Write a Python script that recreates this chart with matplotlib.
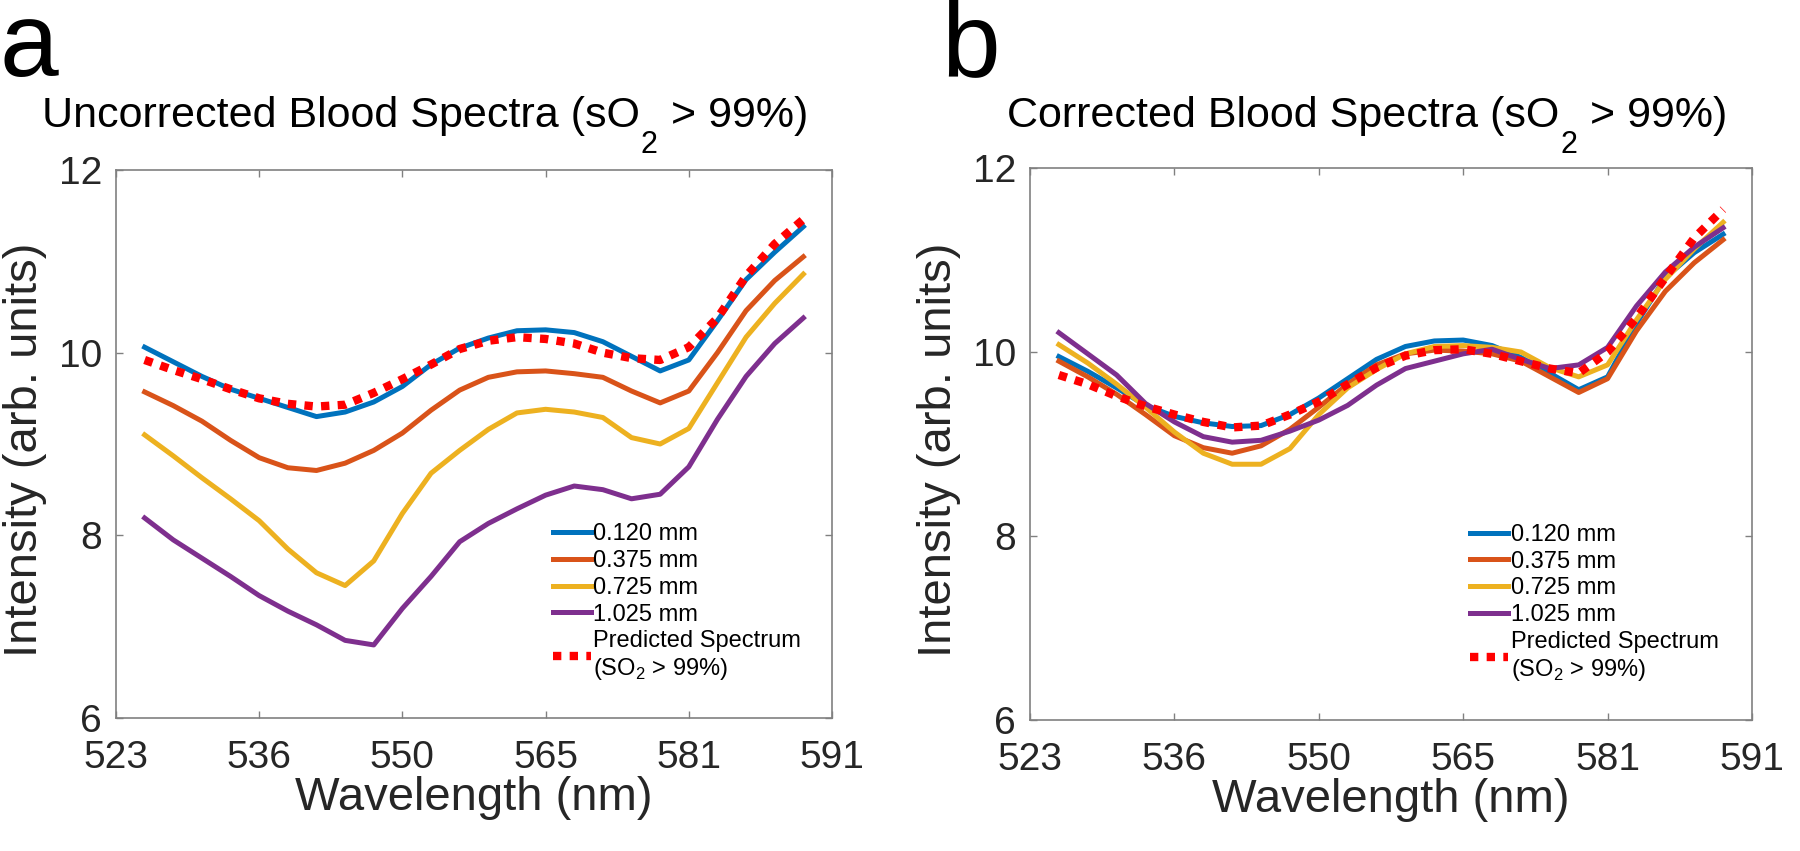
import numpy as np
import matplotlib.pyplot as plt
from matplotlib.transforms import IdentityTransform

plt.rcParams['font.family'] = ['Liberation Sans', 'DejaVu Sans']
plt.rcParams['mathtext.fontset'] = 'custom'
plt.rcParams['mathtext.rm'] = 'Liberation Sans'

# spectra are sampled at 24 evenly spaced bands; axis ticks are labelled by wavelength
band = np.arange(1, 25)
tick_pos = [0, 5, 10, 15, 20, 25]
tick_lbl = ['523', '536', '550', '565', '581', '591']
labels = ['0.120 mm', '0.375 mm', '0.725 mm', '1.025 mm']
colors = ['#0072BD', '#D95319', '#EDB120', '#7E2F8E']

# panel a: uncorrected
a_120 = [10.06, 9.90, 9.74, 9.60, 9.50, 9.40, 9.30, 9.35, 9.46, 9.63, 9.87, 10.05,
         10.16, 10.24, 10.25, 10.22, 10.12, 9.96, 9.80, 9.92, 10.35, 10.80, 11.10, 11.38]
a_375 = [9.57, 9.42, 9.25, 9.04, 8.85, 8.74, 8.71, 8.79, 8.93, 9.12, 9.37, 9.59,
         9.73, 9.79, 9.80, 9.77, 9.73, 9.58, 9.45, 9.58, 10.00, 10.46, 10.79, 11.05]
a_725 = [9.10, 8.87, 8.63, 8.40, 8.16, 7.85, 7.59, 7.45, 7.72, 8.24, 8.68, 8.93,
         9.16, 9.34, 9.38, 9.35, 9.29, 9.07, 9.00, 9.17, 9.67, 10.17, 10.54, 10.86]
a_1025 = [8.19, 7.95, 7.75, 7.55, 7.34, 7.17, 7.02, 6.85, 6.80, 7.20, 7.55, 7.93,
          8.13, 8.29, 8.44, 8.54, 8.50, 8.40, 8.45, 8.75, 9.27, 9.74, 10.10, 10.38]
a_pred = [9.92, 9.81, 9.71, 9.60, 9.50, 9.44, 9.41, 9.43, 9.56, 9.71, 9.87, 10.04,
          10.13, 10.17, 10.15, 10.10, 10.00, 9.94, 9.92, 10.06, 10.38, 10.84, 11.19, 11.46]

# panel b: corrected
b_120 = [9.95, 9.79, 9.61, 9.42, 9.30, 9.23, 9.19, 9.20, 9.32, 9.50, 9.71, 9.92,
         10.06, 10.12, 10.13, 10.07, 9.94, 9.77, 9.59, 9.73, 10.31, 10.81, 11.08, 11.28]
b_375 = [9.90, 9.73, 9.54, 9.32, 9.09, 8.96, 8.90, 8.98, 9.16, 9.40, 9.65, 9.86,
         9.98, 10.02, 10.01, 9.98, 9.90, 9.73, 9.56, 9.71, 10.23, 10.66, 10.97, 11.22]
b_725 = [10.08, 9.88, 9.65, 9.40, 9.13, 8.90, 8.78, 8.78, 8.95, 9.32, 9.61, 9.81,
         9.98, 10.06, 10.07, 10.05, 10.00, 9.83, 9.73, 9.86, 10.35, 10.79, 11.12, 11.41]
b_1025 = [10.21, 9.98, 9.75, 9.44, 9.24, 9.08, 9.02, 9.04, 9.14, 9.26, 9.42, 9.64,
          9.82, 9.90, 9.98, 10.03, 9.92, 9.82, 9.86, 10.05, 10.50, 10.87, 11.14, 11.35]
b_pred = [9.75, 9.65, 9.52, 9.41, 9.32, 9.24, 9.18, 9.20, 9.32, 9.46, 9.65, 9.83,
          9.96, 10.02, 10.03, 9.98, 9.90, 9.82, 9.77, 10.00, 10.37, 10.81, 11.24, 11.55]

W, H = 1800, 851
fig = plt.figure(figsize=(W / 100, H / 100), dpi=100)
rend = fig.canvas.get_renderer()


def box(l, t, r, b):
    return [l / W, 1 - b / H, (r - l) / W, (b - t) / H]


def panel(rect, series, pred, legend_xy):
    ax = fig.add_axes(rect)
    for y, c, lab in zip(series, colors, labels):
        ax.plot(band, y, color=c, lw=3.6, label=lab)
    ax.plot(band, pred, color='#ff0000', lw=6, dashes=(1, 1), dash_capstyle='butt',
            label='Predicted Spectrum\n(SO$_2$ > 99%)')
    ax.set_xlim(0, 25)
    ax.set_ylim(6, 12)
    ax.set_xticks(tick_pos)
    ax.set_xticklabels(tick_lbl)
    ax.set_yticks([6, 8, 10, 12])
    ax.tick_params(direction='in', length=5, width=1, color='#808080', top=True, right=True,
                   labelsize=28, labelcolor='#262626')
    ax.tick_params(axis='x', pad=16)
    ax.tick_params(axis='y', pad=10)
    for s in ax.spines.values():
        s.set_color('#808080')
        s.set_linewidth(1.2)
    ax.set_xlabel('Wavelength (nm)', fontsize=34, color='#262626', labelpad=0)
    leg = ax.legend(loc='upper left', bbox_to_anchor=legend_xy, frameon=False, fontsize=17,
                    handlelength=1.6, handletextpad=0.1, labelspacing=0.2,
                    borderpad=0, borderaxespad=0)
    for t in leg.get_texts():
        t.set_color('black')
    return ax


def title(x, base, pre, post):
    # title with a large, low subscript "2" like the original
    kw = dict(transform=IdentityTransform(), ha='left', va='baseline', color='black')
    t1 = fig.text(x, H - base, pre, fontsize=31, **kw)
    bb = t1.get_window_extent(rend)
    t2 = fig.text(bb.x1 + 1, H - base - 26, '2', fontsize=22, **kw)
    bb2 = t2.get_window_extent(rend)
    fig.text(bb2.x1 + 1, H - base, post, fontsize=31, **kw)


ax1 = panel(box(116, 170, 832, 718), [a_120, a_375, a_725, a_1025], a_pred, (0.61, 0.355))
ax2 = panel(box(1030, 168, 1752, 720), [b_120, b_375, b_725, b_1025], b_pred, (0.61, 0.355))

fig.text(25 / W, 1 - 450 / H, 'Intensity (arb. units)', rotation=90, fontsize=34,
         color='#262626', ha='center', va='center')
fig.text(939 / W, 1 - 450 / H, 'Intensity (arb. units)', rotation=90, fontsize=34,
         color='#262626', ha='center', va='center')

title(42, 127, 'Uncorrected Blood Spectra (sO', ' > 99%)')
title(1007, 127, 'Corrected Blood Spectra (sO', ' > 99%)')

fig.text(0 / W, 1 - 76 / H, 'a', fontsize=76, ha='left', va='baseline')
fig.text(941 / W, 1 - 76 / H, 'b', fontsize=76, ha='left', va='baseline')

fig.savefig('out.png', dpi=100)
